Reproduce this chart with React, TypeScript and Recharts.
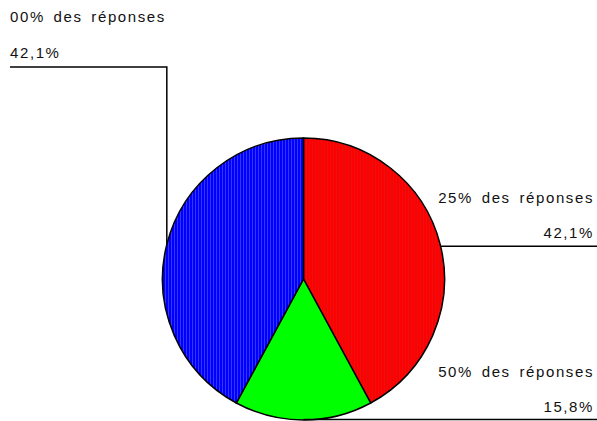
import React from "react"
import { PieChart, Pie, Cell } from "recharts"

// Répartition des réponses
const categories = ["25% des réponses", "50% des réponses", "00% des réponses"]
const shares = [42.1, 15.8, 42.1]
const fills = ["url(#hatchRed)", "url(#hatchGreen)", "url(#hatchBlue)"]

const data = categories.map((name, i) => ({ name, value: shares[i] }))

const RADIAN = Math.PI / 180
const W = 597
const H = 421

const textStyle = {
  fontFamily: "'Liberation Sans', Arial, sans-serif",
  fontSize: 15,
  letterSpacing: 1.6,
  wordSpacing: 3,
  fill: "#111",
}

function formatPct(v: number) {
  return v.toFixed(1).replace(".", ",") + "%"
}

function renderLabel(props: any) {
  const { cx, cy, midAngle, outerRadius, index, value, name } = props
  const x = cx + outerRadius * Math.cos(-midAngle * RADIAN)
  const y = cy + outerRadius * Math.sin(-midAngle * RADIAN)

  if (x < cx) {
    // étiquette à gauche : trait vertical puis horizontal
    const top = 67
    return (
      <g key={`lbl-${index}`}>
        <polyline
          points={`${x},${y} ${x},${top} 10,${top}`}
          fill="none"
          stroke="#000"
          strokeWidth={1.5}
        />
        <text x={10} y={top - 45} style={textStyle as any}>
          {name}
        </text>
        <text x={10} y={top - 9} style={textStyle as any}>
          {formatPct(value)}
        </text>
      </g>
    )
  }

  const ly = Math.min(y + 2, H - 1.5)
  return (
    <g key={`lbl-${index}`}>
      <line x1={x} y1={ly} x2={W} y2={ly} stroke="#000" strokeWidth={1.5} />
      <text x={594} y={ly - 43} textAnchor="end" style={textStyle as any}>
        {name}
      </text>
      <text x={594} y={ly - 8} textAnchor="end" style={textStyle as any}>
        {formatPct(value)}
      </text>
    </g>
  )
}

export default function App() {
  return (
    <div style={{ position: "absolute", left: 0, top: 0, background: "#fff" }}>
      <PieChart width={W} height={H} margin={{ top: 0, right: 0, bottom: 0, left: 0 }}>
        <defs>
          <pattern id="hatchRed" patternUnits="userSpaceOnUse" width={3} height={3}>
            <rect width={3} height={3} fill="#ff0000" />
            <line x1={0.5} y1={0} x2={0.5} y2={3} stroke="#e81010" strokeWidth={1} />
          </pattern>
          <pattern id="hatchBlue" patternUnits="userSpaceOnUse" width={3} height={3}>
            <rect width={3} height={3} fill="#0000ff" />
            <line x1={0.5} y1={0} x2={0.5} y2={3} stroke="#3535ff" strokeWidth={1} />
          </pattern>
          <pattern id="hatchGreen" patternUnits="userSpaceOnUse" width={4} height={4}>
            <rect width={4} height={4} fill="#00ff00" />
          </pattern>
        </defs>
        <Pie
          data={data}
          dataKey="value"
          nameKey="name"
          cx={303.5}
          cy={279}
          outerRadius={141}
          startAngle={90}
          endAngle={-270}
          stroke="#000"
          strokeWidth={1.5}
          label={renderLabel}
          labelLine={false}
          isAnimationActive={false}
        >
          {data.map((d, i) => (
            <Cell key={d.name} fill={fills[i]} />
          ))}
        </Pie>
      </PieChart>
    </div>
  )
}
